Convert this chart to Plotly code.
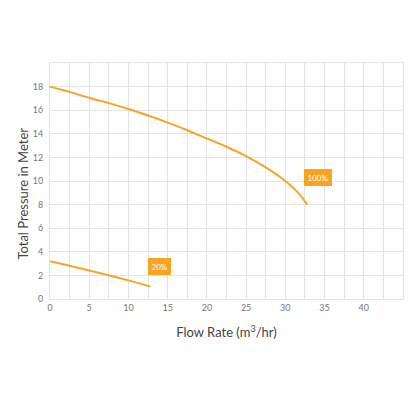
import plotly.graph_objects as go

# pump curve readings (flow m3/hr, pressure m)
flow_100 = [0, 2.5, 5, 7.5, 10, 12.5, 15, 17.5, 20, 22.5, 25, 27.5, 30, 31.5, 32.8]
head_100 = [18.0, 17.55, 17.05, 16.6, 16.1, 15.55, 14.95, 14.3, 13.6, 12.9, 12.1, 11.15, 10.0, 9.1, 8.0]

flow_20 = [0, 5, 10, 12.8]
head_20 = [3.2, 2.42, 1.58, 1.05]

x_ticks = [0, 5, 10, 15, 20, 25, 30, 35, 40]
y_ticks = [0, 2, 4, 6, 8, 10, 12, 14, 16, 18]

labels = ["100%", "20%"]
label_x = [34.2, 14.0]
label_y = [10.3, 2.75]

orange = "#F7A423"
grid = "#E3E3E3"

fig = go.Figure()
fig.add_trace(go.Scatter(x=flow_100, y=head_100, mode="lines",
                         line=dict(color=orange, width=2, shape="spline"), hoverinfo="skip"))
fig.add_trace(go.Scatter(x=flow_20, y=head_20, mode="lines",
                         line=dict(color=orange, width=2, shape="spline"), hoverinfo="skip"))

for t, ax, ay in zip(labels, label_x, label_y):
    fig.add_annotation(x=ax, y=ay, text=t, showarrow=False,
                       font=dict(family="Lato", size=8, color="white"),
                       bgcolor=orange, bordercolor=orange, borderpad=2.5)

# y title sits a bit below the middle of the plot in the original
fig.add_annotation(text="Total Pressure in Meter", xref="paper", yref="paper",
                   x=-0.079, y=0.447, xanchor="center", yanchor="middle",
                   textangle=-90, showarrow=False,
                   font=dict(family="Lato", size=13, color="#444"))

fig.update_layout(
    width=416, height=416,
    margin=dict(l=50, r=13, t=63, b=117),
    plot_bgcolor="white", paper_bgcolor="white",
    showlegend=False,
    font=dict(family="Lato", color="#666"),
)
fig.update_xaxes(range=[0, 45], tickvals=x_ticks, showgrid=True, gridcolor=grid, gridwidth=1,
                 minor=dict(dtick=2.5, showgrid=True, gridcolor=grid, gridwidth=1),
                 showline=True, linecolor=grid, mirror=True, zeroline=False, automargin=False,
                 tickfont=dict(size=9, color="#777"),
                 title=dict(text="Flow Rate (m<sup>3</sup>/hr)", standoff=16,
                            font=dict(size=13, color="#444")))
fig.update_yaxes(range=[0, 20], tickvals=y_ticks, showgrid=True, gridcolor=grid, gridwidth=1,
                 showline=True, linecolor=grid, mirror=True, zeroline=False, automargin=False,
                 tickfont=dict(size=9, color="#777"), ticklabelstandoff=4)

# page body has a default 8px margin; drop it so the figure sits at the window corner
fig.write_html("out.html", config={"displayModeBar": False},
               post_script="document.body.style.margin='0';")
